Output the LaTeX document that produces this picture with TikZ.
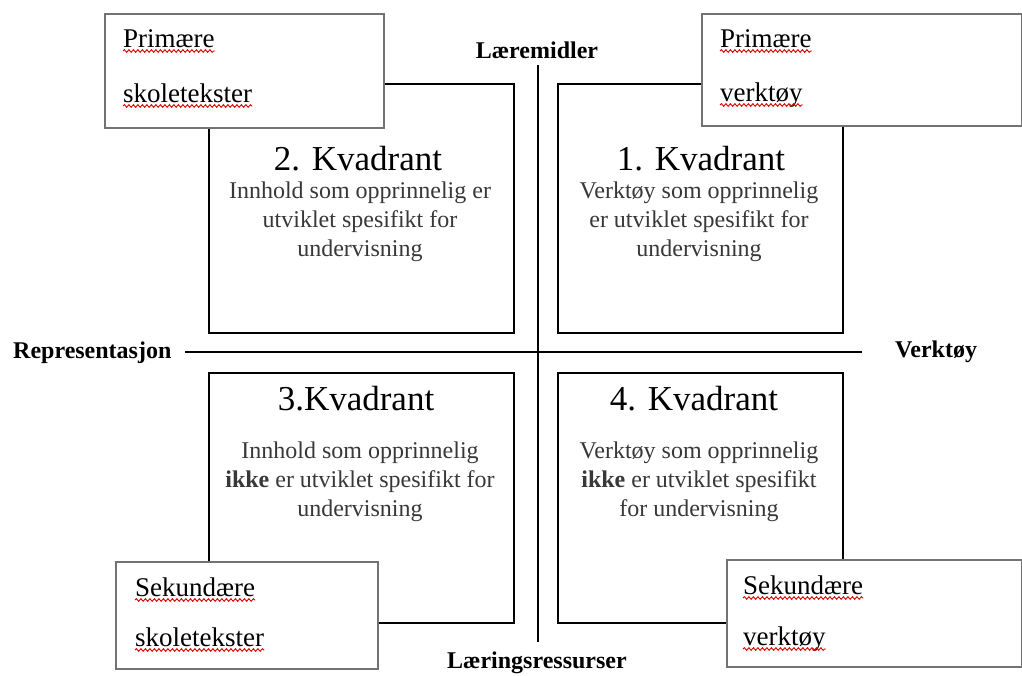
\documentclass[tikz,border=0pt]{standalone}
\usepackage{fontspec}
\setmainfont{Liberation Serif}
\usetikzlibrary{decorations.pathmorphing}

\newcommand*{\xleft}{185}
\newcommand*{\xright}{862}
\newcommand*{\ytop}{65}
\newcommand*{\ybot}{642}
\newcommand*{\xmid}{538}
\newcommand*{\ymid}{352}

\begin{document}
\begin{tikzpicture}
[
	x=1pt, y=-1pt,
	quadbox/.style={draw,line width=2pt,anchor=north west,inner sep=0pt},
	labelbox/.style={draw=black!55,line width=1.5pt,fill=white,anchor=north west,inner sep=0pt},
	qtitle/.style={anchor=base,inner sep=0pt,font=\fontsize{35}{42}\selectfont},
	qtext/.style={align=center,inner sep=0pt,text=black!78,font=\fontsize{24}{29}\selectfont},
	axislabel/.style={anchor=base,inner sep=0pt,font=\fontsize{24}{29}\selectfont\bfseries},
	axis/.style={line width=2.5pt},
	boxword/.style={anchor=base west,inner sep=0pt,font=\fontsize{27}{32}\selectfont},
	squiggle/.style={red!85!black,line width=0.9pt,decorate,decoration={snake,amplitude=1.3pt,segment length=4.5pt}}
]

	\useasboundingbox (0,0) rectangle (1022,675);

	% quadrants
	\node[quadbox,minimum width=305,minimum height=249] (q2) at (208,83) {};
	\node[quadbox,minimum width=285,minimum height=249] (q1) at (557,83) {};
	\node[quadbox,minimum width=305,minimum height=250] (q3) at (208,372) {};
	\node[quadbox,minimum width=285,minimum height=250] (q4) at (557,372) {};

	\node[qtitle] (q2title) at (358,170) {2. Kvadrant};
	\node[qtitle] (q1title) at (701,170) {1. Kvadrant};
	\node[qtitle] (q3title) at (356,410) {3.Kvadrant};
	\node[qtitle] (q4title) at (694,410) {4. Kvadrant};

	\node[qtext] (q2text) at (360,222)
	  {Innhold som opprinnelig er\\utviklet spesifikt for\\undervisning};
	\node[qtext] (q1text) at (699,222)
	  {Verktøy som opprinnelig\\er utviklet spesifikt for\\undervisning};
	\node[qtext] (q3text) at (360,482)
	  {Innhold som opprinnelig\\\textbf{ikke} er utviklet spesifikt for\\undervisning};
	\node[qtext] (q4text) at (699,482)
	  {Verktøy som opprinnelig\\\textbf{ikke} er utviklet spesifikt\\for undervisning};

	% axes
	\coordinate (axleft) at (\xleft,\ymid);
	\coordinate (axright) at (\xright,\ymid);
	\coordinate (axtop) at (\xmid,\ytop);
	\coordinate (axbot) at (\xmid,\ybot);
	\draw[axis] (axleft) -- (axright);
	\draw[axis] (axtop) -- (axbot);

	\node[axislabel] (laeremidler) at (537,58) {Læremidler};
	\node[axislabel] (ressurser) at (537,668) {Læringsressurser};
	\node[axislabel,anchor=base west] (repr) at (13,358) {Representasjon};
	\node[axislabel,anchor=base west] (verktoy) at (895,357) {Verktøy};

	% corner boxes
	\node[labelbox,minimum width=279,minimum height=114] (primskole) at (104,13) {};
	\node[labelbox,minimum width=320,minimum height=112] (primverk) at (701,13) {};
	\node[labelbox,minimum width=262,minimum height=107] (sekskole) at (115,561) {};
	\node[labelbox,minimum width=295,minimum height=107] (sekverk) at (726,559) {};

	\node[boxword] (ps1) at (123,47) {Primære};
	\node[boxword] (ps2) at (123,102) {skoletekster};
	\node[boxword] (pv1) at (720,47) {Primære};
	\node[boxword] (pv2) at (720,101) {verktøy};
	\node[boxword] (ss1) at (135,596) {Sekundære};
	\node[boxword] (ss2) at (135,646) {skoletekster};
	\node[boxword] (sv1) at (743,594) {Sekundære};
	\node[boxword] (sv2) at (743,645) {verktøy};

	% spell-check marks
	\foreach \w in {ps1,ps2,pv1,pv2,ss1,ss2,sv1,sv2}
	  \draw[squiggle] ([yshift=-4pt]\w.base west) -- ([yshift=-4pt]\w.base east);

\end{tikzpicture}
\end{document}
